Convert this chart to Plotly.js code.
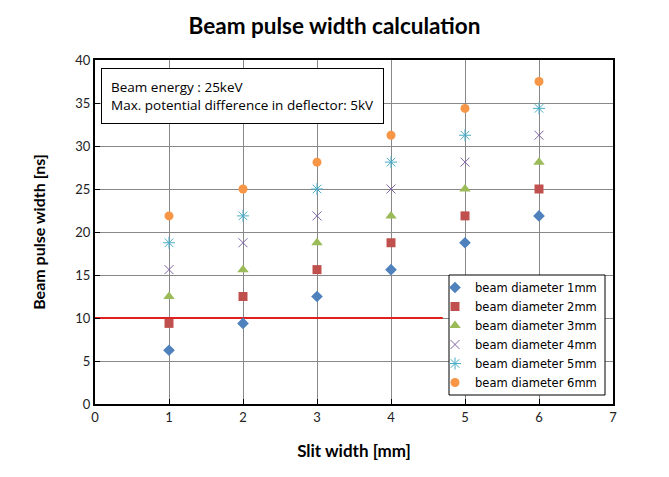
<!DOCTYPE html>
<html><head><meta charset="utf-8">
<script src="https://cdn.plot.ly/plotly-3.0.1.min.js"></script>
<style>body{margin:0;background:#fff}#c{width:669px;height:477px}</style>
</head><body><div id="c"></div>
<script>
const slitWidth = [1, 2, 3, 4, 5, 6];
const seriesNames = ['beam diameter 1mm','beam diameter 2mm','beam diameter 3mm','beam diameter 4mm','beam diameter 5mm','beam diameter 6mm'];
const d1 = [6.25, 9.375, 12.5, 15.625, 18.75, 21.875];
const d2 = [9.375, 12.5, 15.625, 18.75, 21.875, 25];
const d3 = [12.5, 15.625, 18.75, 21.875, 25, 28.125];
const d4 = [15.625, 18.75, 21.875, 25, 28.125, 31.25];
const d5 = [18.75, 21.875, 25, 28.125, 31.25, 34.375];
const d6 = [21.875, 25, 28.125, 31.25, 34.375, 37.5];
const limitX = [0, 4.7];
const limitY = [10, 10];

const series = [d1, d2, d3, d4, d5, d6];
const styles = [
  {symbol:'diamond', color:'#4F81BD', size:9},
  {symbol:'square', color:'#C0504D', size:9},
  {symbol:'triangle-up', color:'#9BBB59', size:10},
  {symbol:'x-thin-open', color:'#8064A2', size:9, line:{width:1,color:'#8064A2'}},
  {symbol:'asterisk-open', color:'#4BACC6', size:10, line:{width:1,color:'#4BACC6'}},
  {symbol:'circle', color:'#F79646', size:9}
];
const traces = [{
  x: limitX, y: limitY, mode:'lines', line:{color:'#E0201E', width:2}, showlegend:false, hoverinfo:'skip'
}];
series.forEach((s,i)=>{
  const st = styles[i];
  const m = {symbol:st.symbol, color:st.color, size:st.size};
  if (st.line) m.line = st.line;
  traces.push({x: slitWidth, y: s, mode:'markers', name: seriesNames[i], marker: m});
});

const L = 95, R = 613, T = 60, B = 404;
const px = v => (v - L) / (R - L);
const py = v => (B - v) / (B - T);

const layout = {
  width:669, height:477,
  margin:{l:L, r:669-R, t:T, b:477-B},
  paper_bgcolor:'#fff', plot_bgcolor:'#fff',
  font:{family:'Lato, "Open Sans", sans-serif', color:'#000'},
  title:{text:'<b>Beam pulse width calculation</b>', x:0.5, xref:'container', y:0.945, yref:'container', yanchor:'middle', font:{size:22.5, color:'#000', family:'Lato, sans-serif'}},
  xaxis:{range:[0,7], dtick:1, tick0:0, showgrid:true, gridcolor:'#888', gridwidth:1,
    zeroline:false, showline:true, linecolor:'#000', linewidth:2, mirror:true,
    ticks:'inside', ticklen:5, tickcolor:'#000',
    tickfont:{size:13, color:'#222'},
    title:{text:'<b>Slit width [mm]</b>', font:{size:17}, standoff:22}},
  yaxis:{range:[0,40], dtick:5, tick0:0, showgrid:true, gridcolor:'#888', gridwidth:1,
    zeroline:false, showline:true, linecolor:'#000', linewidth:2, mirror:true,
    ticks:'inside', ticklen:5, tickcolor:'#000',
    tickfont:{size:13, color:'#222'},
    title:{text:'<b>Beam pulse width [ns]</b>', font:{size:16}, standoff:26}},
  shapes:[{type:'rect', xref:'paper', yref:'paper', layer:'above',
    x0:px(449), x1:px(605), y0:py(395), y1:py(275),
    fillcolor:'#fff', line:{color:'#000', width:1}}],
  legend:{x:px(476-41), y:py(273), xanchor:'left', yanchor:'top', bgcolor:'rgba(0,0,0,0)', borderwidth:0,
    font:{family:'"DejaVu Sans", Verdana, sans-serif', size:11.5, color:'#000'}, tracegroupgap:0, itemwidth:30},
  annotations:[{
    xref:'paper', yref:'paper', x:px(101), y:py(68), xanchor:'left', yanchor:'top', align:'left',
    text:'Beam energy : 25keV<br>Max. potential difference in deflector: 5kV',
    showarrow:false, bgcolor:'#fff', bordercolor:'#000', borderwidth:1, borderpad:9,
    font:{size:13.5, color:'#000', family:'"Open Sans", sans-serif'}
  }]
};
Plotly.newPlot('c', traces, layout, {displayModeBar:false, staticPlot:true});
</script></body></html>
